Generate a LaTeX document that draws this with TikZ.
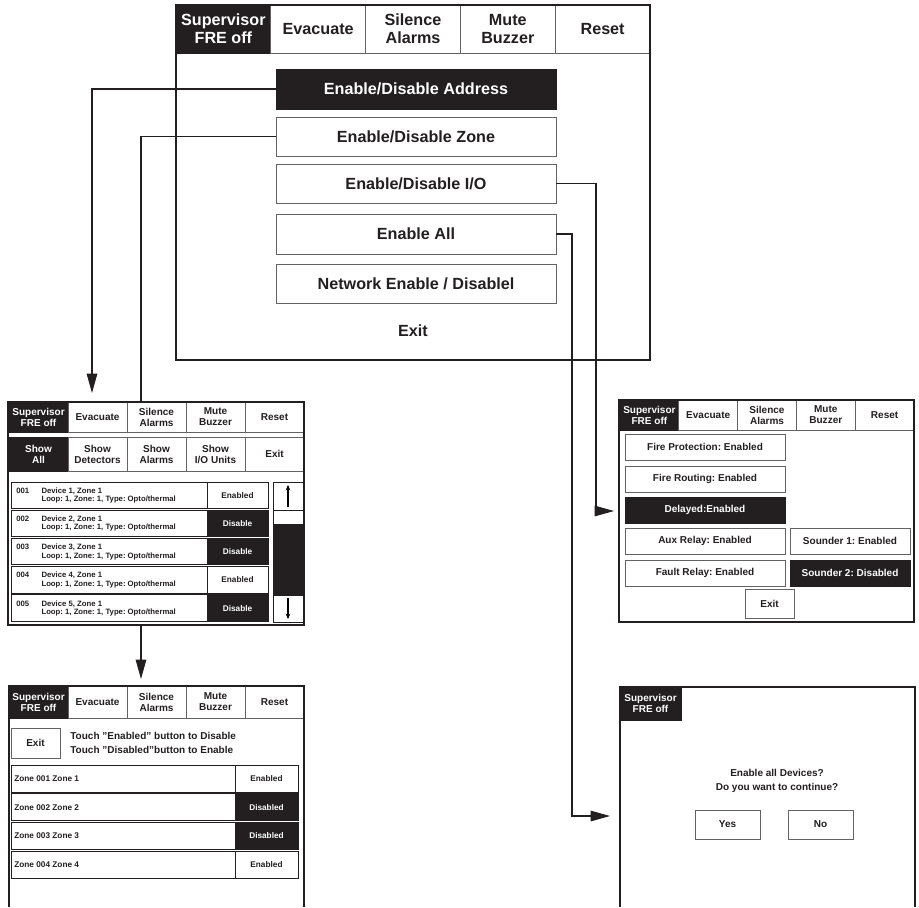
\documentclass[tikz,border=0pt]{standalone}
\usepackage{fontspec}
\setmainfont{Liberation Sans}
\usetikzlibrary{arrows.meta,positioning}
\definecolor{ink}{HTML}{231F20}

\begin{document}
\frenchspacing
\begin{tikzpicture}[x=0.02cm, y=-0.02cm, >={Triangle[length=11pt,width=6pt]},
	area/.style n args={4}{at={({((#1)+(#3))/2},{((#2)+(#4))/2})},
		minimum width={((#3)-(#1))*0.02cm}, minimum height={((#4)-(#2))*0.02cm}},
	cell/.style={draw=ink!70, line width=0.5pt, fill=white, text=ink, inner sep=0pt, outer sep=0pt, align=center},
	dark/.style={cell, draw=ink, fill=ink, text=white},
	panel/.style={draw=ink, line width=0.8pt, inner sep=0pt, outer sep=0pt},
	link/.style={draw=ink, line width=0.6pt},
	big/.style={font=\bfseries\fontsize{9.2}{10.4}\selectfont},
	small/.style={font=\bfseries\fontsize{5.7}{6.3}\selectfont},
	stat/.style={font=\bfseries\fontsize{4.7}{5}\selectfont},
	tiny/.style={font=\bfseries\fontsize{4.4}{4.8}\selectfont},
	note/.style={font=\bfseries\fontsize{5.7}{7.6}\selectfont, text=ink}]
	\path[use as bounding box] (0,0) rectangle (919,907);
	
	% Kopfzeilen
	\foreach \px/\py/\w/\h/\p/\f in {176/5/94.8/48/m/big, 9/402/59/30/a/small, 9/686/59/32/z/small, 620/400/58.8/30/o/small}
		\foreach \sty/\lbl [count=\i] in {dark/{Supervisor\\FRE off}, cell/Evacuate, cell/{Silence\\Alarms}, cell/{Mute\\Buzzer}, cell/Reset}
			\node[\sty, \f, area={\px+(\i-1)*\w}{\py}{\px+\i*\w}{\py+\h}] (\p h\i) {\lbl};
	
	% Menue
	\node[dark, big, area={276}{69}{556}{109}] (addr) {Enable/Disable Address};
	\node[cell, big, area={276}{117}{556}{156}] (zone) {Enable/Disable Zone};
	\node[cell, big, area={276}{164}{556}{203}] (io) {Enable/Disable I/O};
	\node[cell, big, area={276}{214}{556}{254}] (all) {Enable All};
	\node[cell, big, area={276}{264}{556}{303}] (net) {Network Enable / Disablel};
	\node[big, text=ink] (mexit) at (413,331) {Exit};
	\node[panel, area={176}{5}{650}{360}] (menu) {};
	
	% Adressen
	\foreach \sty/\lbl [count=\i] in {dark/{Show\\All}, cell/{Show\\Detectors}, cell/{Show\\Alarms}, cell/{Show\\I/O Units}, cell/Exit}
		\node[\sty, small, area={9+(\i-1)*59}{437}{9+\i*59}{471}] (as\i) {\lbl};
	\foreach \i/\st/\sty in {1/Enabled/cell, 2/Disable/dark, 3/Disable/dark, 4/Enabled/cell, 5/Disable/dark} {
		\pgfmathsetmacro\ry{482+(\i-1)*28.2}
		\node[cell, draw=ink, area={11}{\ry}{207}{\ry+26.5}] (a\i) {};
		\node[tiny, text=ink, anchor=west, align=left, inner sep=0pt] (adev\i) at (16,{\ry+13.5})
			{00\i\hspace{7pt}Device \i, Zone 1\\\hphantom{00\i}\hspace{7pt}Loop: 1, Zone: 1, Type: Opto/thermal};
		\node[\sty, draw=ink, stat, area={207}{\ry}{268}{\ry+26.5}] (ast\i) {\st};
	}
	\node[cell, draw=ink, area={273}{482}{303}{510}] (aup) {};
	\node[cell, draw=ink, area={273}{510}{303}{524}] (abar) {};
	\node[dark, area={273}{524}{303}{595}] (aknob) {};
	\node[cell, draw=ink, area={273}{595}{303}{622}] (adn) {};
	\draw[line width=0.6pt, -{Stealth[length=3pt,width=2.6pt]}, shorten <=0.06cm, shorten >=0.06cm] (aup.south) -- (aup.north);
	\draw[line width=0.6pt, -{Stealth[length=3pt,width=2.6pt]}, shorten <=0.06cm, shorten >=0.06cm] (adn.north) -- (adn.south);
	\node[panel, area={8}{402}{304}{625}] (alist) {};
	
	% Zonen
	\node[cell, small, area={11}{728}{60}{758}] (zexit) {Exit};
	\node[note, anchor=west, align=left, inner sep=0pt] (zhint) at (70,743)
		{Touch "Enabled" button to Disable\\Touch "Disabled"button to Enable};
	\foreach \i/\st/\sty in {1/Enabled/cell, 2/Disabled/dark, 3/Disabled/dark, 4/Enabled/cell} {
		\pgfmathsetmacro\ry{765+(\i-1)*28.7}
		\node[cell, draw=ink, area={11}{\ry}{235}{\ry+27}] (z\i) {};
		\node[stat, text=ink, anchor=west, inner sep=0pt] (zname\i) at (14,{\ry+13.5}) {Zone 00\i\ Zone \i};
		\node[\sty, draw=ink, stat, area={235}{\ry}{298}{\ry+27}] (zst\i) {\st};
	}
	\draw[panel] (9,907) -- (9,686) -- (304,686) -- (304,907);
	
	% Ausgaenge
	\node[cell, small, area={625}{434}{785}{460}] (fprot) {Fire Protection: Enabled};
	\node[cell, small, area={625}{466}{785}{492}] (froute) {Fire Routing: Enabled};
	\node[dark, small, area={625}{497}{785}{523}] (delay) {Delayed:Enabled};
	\node[cell, small, area={625}{528}{785}{554}] (aux) {Aux Relay: Enabled};
	\node[cell, small, area={625}{560}{785}{586}] (fault) {Fault Relay: Enabled};
	\node[cell, small, area={790}{528}{910}{554}] (snda) {Sounder 1: Enabled};
	\node[dark, small, area={790}{560}{910}{586}] (sndb) {Sounder 2: Disabled};
	\node[cell, small, area={745}{589}{794}{618}] (oexit) {Exit};
	\node[panel, area={619}{400}{914}{622}] (olist) {};
	
	% Abfrage
	\node[dark, small, area={620}{687}{681}{720}] (csup) {Supervisor\\FRE off};
	\node[note, align=center] (cmsg) at (777,781) {Enable all Devices?\\Do you want to continue?};
	\node[cell, small, area={695}{810}{760}{839}] (cyes) {Yes};
	\node[cell, small, area={788}{810}{853}{839}] (cno) {No};
	\draw[panel] (620,907) -- (620,687) -- (915,687) -- (915,907);
	
	% Verbindungen
	\coordinate (ain) at (92,393);
	\coordinate (zx) at (141,0);
	\coordinate (zin) at (141,679);
	\coordinate (cin) at (610,816);
	\draw[link, ->] (addr.west) -| (ain);
	\draw[link] (zone.west) -| (alist.north -| zx);
	\draw[link, ->] (alist.south -| zin) -- (zin);
	\draw[link, ->, shorten >=0.1cm] (io.east) -- ++(40,0) |- (olist.west);
	\draw[link, ->] (all.east) -- ++(16,0) |- (cin);
\end{tikzpicture}
\end{document}
